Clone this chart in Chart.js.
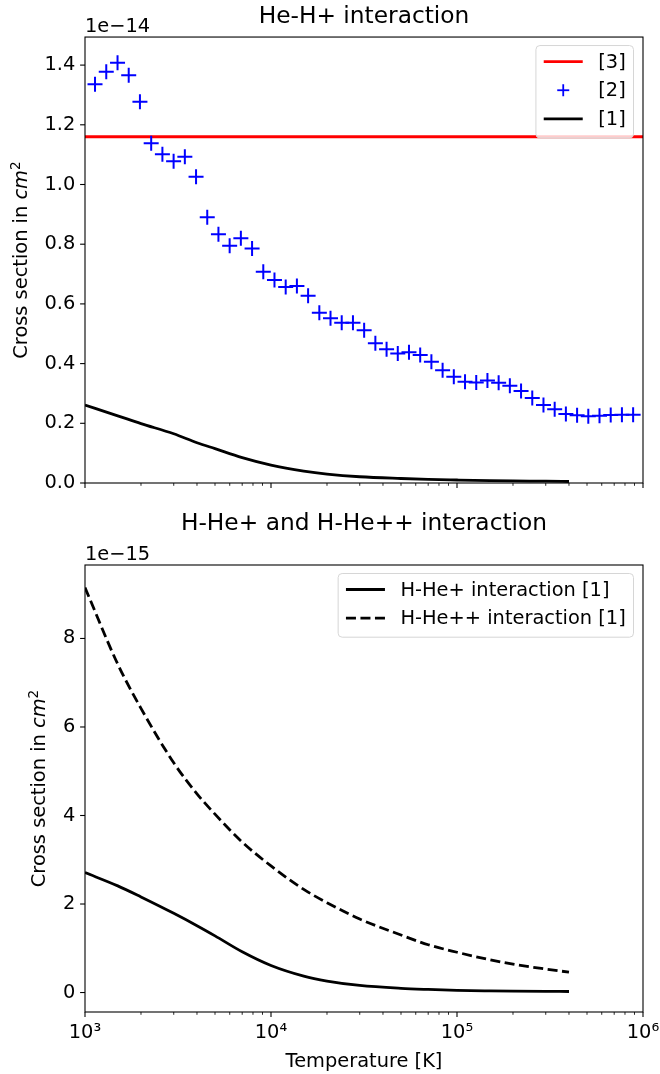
<!DOCTYPE html>
<html>
<head>
<meta charset="utf-8">
<script src="https://cdn.jsdelivr.net/npm/chart.js@4.4.1/dist/chart.umd.min.js"></script>
<style>
html,body{margin:0;padding:0;background:#fff;}
#wrap{position:relative;width:660px;height:1074px;background:#fff;}
canvas{position:absolute;left:0;}
</style>
</head>
<body>
<div id="wrap">
<canvas id="c1" width="660" height="500" style="top:0px"></canvas>
<canvas id="c2" width="660" height="574" style="top:500px"></canvas>
</div>
<script>
// ---------------- DATA ----------------
// Reference [2]: He-H+ cross section (units of 1e-14 cm^2) vs temperature [K]
const tempRef2 = [1132, 1301, 1496, 1718, 1974, 2269, 2607, 2995, 3442, 3954,
  4542, 5217, 5994, 6886, 7911, 9089, 10440, 11995, 13780, 15830,
  18190, 20890, 24000, 27580, 31680, 36400, 41820, 48040, 55190, 63400,
  72840, 83680, 96130, 110440, 126880, 145760, 167450, 192370, 221000, 253890,
  291670, 335080, 384950, 442240, 508060, 583670, 670540, 770330, 884970];
const sigmaRef2 = [1.336, 1.378, 1.408, 1.366, 1.277, 1.138, 1.101, 1.078, 1.093, 1.026,
  0.890, 0.833, 0.795, 0.820, 0.786, 0.708, 0.680, 0.657, 0.660, 0.627,
  0.570, 0.552, 0.537, 0.537, 0.512, 0.468, 0.448, 0.434, 0.438, 0.429,
  0.406, 0.378, 0.356, 0.339, 0.337, 0.343, 0.336, 0.326, 0.308, 0.285,
  0.261, 0.247, 0.231, 0.227, 0.224, 0.225, 0.228, 0.229, 0.229];
// Reference [3]: constant value (units of 1e-14 cm^2) across the temperature range
const ref3Value = 1.16;
const ref3Span = [1e3, 1e6];
// Reference [1]: model curves
const tempModel = [1000, 1500, 2000, 3000, 4000, 5000, 7000, 10000, 15000, 20000,
  30000, 50000, 70000, 100000, 150000, 200000, 300000, 400000];
// He-H+ interaction [1], units of 1e-14 cm^2
const sigmaHeHp = [0.261, 0.225, 0.199, 0.165, 0.135, 0.115, 0.085, 0.060, 0.040, 0.030,
  0.021, 0.015, 0.012, 0.010, 0.008, 0.007, 0.006, 0.005];
// H-He+ interaction [1], units of 1e-15 cm^2
const sigmaHHep = [2.71, 2.41, 2.16, 1.79, 1.51, 1.28, 0.92, 0.61, 0.37, 0.26,
  0.16, 0.095, 0.07, 0.05, 0.038, 0.032, 0.026, 0.023];
// H-He++ interaction [1], units of 1e-15 cm^2
const sigmaHHepp = [9.15, 7.42, 6.42, 5.19, 4.49, 4.03, 3.40, 2.86, 2.33, 2.03,
  1.66, 1.30, 1.08, 0.91, 0.74, 0.64, 0.53, 0.46];

// ---------------- HELPERS ----------------
const FONT = "'DejaVu Sans', sans-serif";
const FS = 19.4;      // base font size (px)
const FS_TITLE = 23.3;
Chart.defaults.font.family = FONT;
Chart.defaults.font.size = FS;
Chart.defaults.color = '#000';

const SUP = {'0':'⁰','1':'¹','2':'²','3':'³','4':'⁴','5':'⁵','6':'⁶','7':'⁷','8':'⁸','9':'⁹','-':'⁻'};
const supStr = n => String(n).split('').map(c => SUP[c] || c).join('');
const pts = (xs, ys) => xs.map((x, i) => ({x, y: ys[i]}));

const decor = {
  id: 'decor',
  afterDatasetsDraw(chart, args, o) {
    const ctx = chart.ctx, a = chart.chartArea;
    const xs = chart.scales.x, ys = chart.scales.y;
    ctx.save();
    ctx.strokeStyle = '#000';
    ctx.fillStyle = '#000';
    const seg = (x0, y0, x1, y1, lw) => {
      ctx.lineWidth = lw; ctx.beginPath(); ctx.moveTo(x0, y0); ctx.lineTo(x1, y1); ctx.stroke();
    };
    // y ticks
    ys.ticks.forEach(t => {
      const p = ys.getPixelForValue(t.value);
      if (p < a.top - 0.5 || p > a.bottom + 0.5) return;
      seg(a.left - 4.9, p, a.left, p, 1.1);
    });
    // x log ticks (major + minor)
    const e0 = Math.floor(Math.log10(xs.min)), e1 = Math.ceil(Math.log10(xs.max));
    for (let e = e0; e <= e1; e++) {
      for (let m = 1; m <= 9; m++) {
        const v = m * Math.pow(10, e);
        if (v < xs.min * 0.999 || v > xs.max * 1.001) continue;
        const p = xs.getPixelForValue(v);
        if (m === 1) seg(p, a.bottom, p, a.bottom + 4.9, 1.1);
        else seg(p, a.bottom, p, a.bottom + 2.8, 0.85);
      }
    }
    // frame
    ctx.lineWidth = 1.1;
    ctx.strokeRect(a.left, a.top, a.right - a.left, a.bottom - a.top);
    // offset text
    ctx.font = `${FS}px ${FONT}`;
    ctx.textAlign = 'left';
    ctx.textBaseline = 'alphabetic';
    ctx.fillText(o.offsetText, a.left, a.top - o.offsetGap);
    // y label with italic cm and superscript 2
    ctx.save();
    ctx.translate(o.ylabelX, (a.top + a.bottom) / 2);
    ctx.rotate(-Math.PI / 2);
    const parts = [
      {t: 'Cross section in ', f: `${FS}px ${FONT}`, dy: 0},
      {t: 'cm', f: `italic ${FS}px ${FONT}`, dy: 0},
      {t: '2', f: `${(FS * 0.7).toFixed(1)}px ${FONT}`, dy: -7.5}
    ];
    let W = 0;
    parts.forEach(p => { ctx.font = p.f; p.w = ctx.measureText(p.t).width; W += p.w; });
    let x = -W / 2;
    parts.forEach(p => { ctx.font = p.f; ctx.fillText(p.t, x, 7 + p.dy); x += p.w; });
    ctx.restore();
    // legend
    const dsets = chart.data.datasets;
    ctx.font = `${FS}px ${FONT}`;
    const tw = Math.max(...dsets.map(d => ctx.measureText(d.label).width));
    const pad = 7.8, hl = 39, htp = 15.5;
    const boxW = pad + hl + htp + tw + pad;
    const right = a.right - 9.5, top = a.top + 8.5;
    const left = right - boxW;
    const rowH = 28.7;
    const boxH = 16 + rowH * (dsets.length - 1) + 19;
    ctx.beginPath();
    ctx.roundRect(left, top, boxW, boxH, 4);
    ctx.fillStyle = 'rgba(255,255,255,0.8)';
    ctx.fill();
    ctx.strokeStyle = '#d6d6d6';
    ctx.lineWidth = 1;
    ctx.stroke();
    dsets.forEach((d, i) => {
      const cy = top + 16 + rowH * i;
      const x0 = left + pad, x1 = x0 + hl;
      if (d.showLine === false) {
        ctx.strokeStyle = d.pointBorderColor;
        ctx.setLineDash([]);
        const cx = (x0 + x1) / 2;
        seg(cx - 6, cy, cx + 6, cy, 1.8);
        seg(cx, cy - 6, cx, cy + 6, 1.8);
      } else {
        ctx.strokeStyle = d.borderColor;
        ctx.setLineDash(d.borderDash || []);
        seg(x0, cy, x1, cy, d.borderWidth);
        ctx.setLineDash([]);
      }
      ctx.fillStyle = '#000';
      ctx.textBaseline = 'middle';
      ctx.fillText(d.label, x1 + htp, cy + 1);
    });
    ctx.restore();
  }
};

const noGrid = {display: false, drawTicks: false};
const fixX = h => s => { s.height = h; s.paddingLeft = 0; s.paddingRight = 0; };
const fixY = w => s => { s.width = w; s.paddingTop = 0; s.paddingBottom = 0; };

// ---------------- TOP CHART ----------------
new Chart(document.getElementById('c1'), {
  type: 'line',
  data: {
    datasets: [
      {label: '[3]', data: pts(ref3Span, ref3Span.map(() => ref3Value)), borderColor: '#ff0000',
       borderWidth: 2.8, pointRadius: 0, order: 3},
      {label: '[2]', data: pts(tempRef2, sigmaRef2), showLine: false, pointStyle: 'cross',
       pointRadius: 7.5, pointBorderColor: '#0000ff', pointBorderWidth: 2, borderColor: '#0000ff', order: 2},
      {label: '[1]', data: pts(tempModel, sigmaHeHp), borderColor: '#000000', borderWidth: 2.8,
       pointRadius: 0, cubicInterpolationMode: 'monotone', order: 1}
    ]
  },
  options: {
    responsive: false, animation: false, devicePixelRatio: 1,
    layout: {padding: {left: 0, right: 17, top: 0, bottom: 0}},
    plugins: {
      legend: {display: false}, tooltip: {enabled: false},
      title: {display: true, text: 'He-H+ interaction', color: '#000', fullSize: false,
              font: {size: FS_TITLE, weight: 'normal'}, padding: {top: 2.5, bottom: 6.58}},
      decor: {offsetText: '1e\u221214', offsetGap: 5.5, ylabelX: 20}
    },
    scales: {
      x: {type: 'logarithmic', min: 1e3, max: 1e6, grid: noGrid, border: {display: false},
          ticks: {display: false}, afterFit: fixX(17)},
      y: {min: 0, max: 1.494, grid: noGrid, border: {display: false},
          ticks: {stepSize: 0.2, includeBounds: false, padding: 9.7, color: '#000',
                  callback: v => v.toFixed(1)},
          afterFit: fixY(85)}
    }
  },
  plugins: [decor]
});

// ---------------- BOTTOM CHART ----------------
new Chart(document.getElementById('c2'), {
  type: 'line',
  data: {
    datasets: [
      {label: 'H-He+ interaction [1]', data: pts(tempModel, sigmaHHep), borderColor: '#000000',
       borderWidth: 2.8, pointRadius: 0, cubicInterpolationMode: 'monotone'},
      {label: 'H-He++ interaction [1]', data: pts(tempModel, sigmaHHepp), borderColor: '#000000',
       borderWidth: 2.8, borderDash: [10, 4.5], pointRadius: 0, cubicInterpolationMode: 'monotone'}
    ]
  },
  options: {
    responsive: false, animation: false, devicePixelRatio: 1,
    layout: {padding: {left: 0, right: 17, top: 0, bottom: 0}},
    plugins: {
      legend: {display: false}, tooltip: {enabled: false},
      title: {display: true, text: 'H-He+ and H-He++ interaction', color: '#000', fullSize: false,
              font: {size: FS_TITLE, weight: 'normal'}, padding: {top: 10, bottom: 27.04}},
      decor: {offsetText: '1e\u221215', offsetGap: 5, ylabelX: 38}
    },
    scales: {
      x: {type: 'logarithmic', min: 1e3, max: 1e6, grid: noGrid, border: {display: false},
          ticks: {autoSkip: false, maxRotation: 0, minRotation: 0, padding: 9.6, color: '#000',
                  callback: v => {
                    const l = Math.log10(v);
                    return Math.abs(l - Math.round(l)) < 1e-9 ? '10' + supStr(Math.round(l)) : '';
                  }},
          title: {display: true, text: 'Temperature [K]', color: '#000', font: {size: FS},
                  padding: {top: 0, bottom: 0.6}},
          afterFit: fixX(62)},
      y: {min: -0.44, max: 9.66, grid: noGrid, border: {display: false},
          ticks: {stepSize: 2, includeBounds: false, padding: 9.7, color: '#000',
                  callback: v => String(Math.round(v))},
          afterFit: fixY(85)}
    }
  },
  plugins: [decor]
});
</script>
</body>
</html>
